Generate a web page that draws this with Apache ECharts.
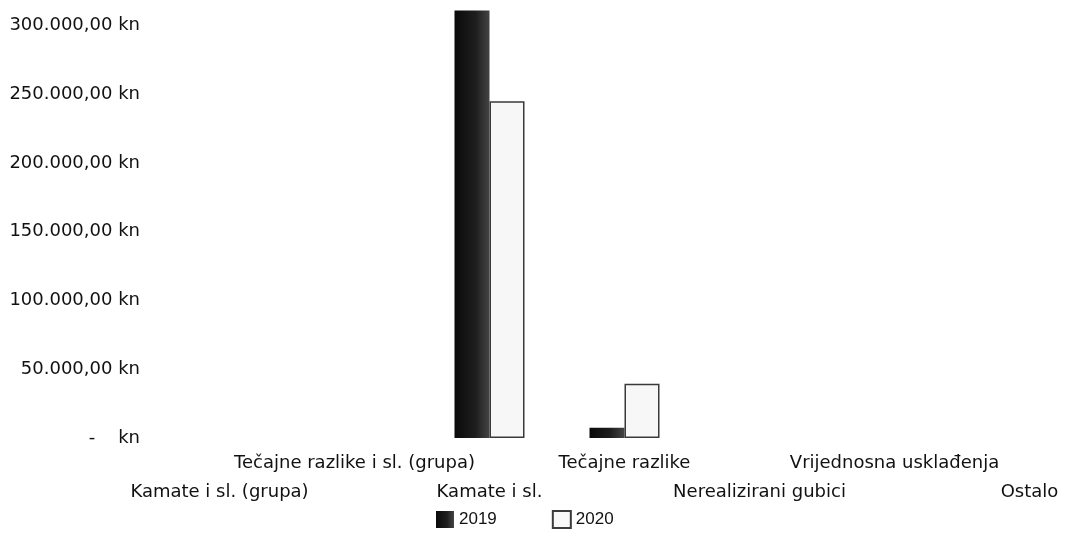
<!DOCTYPE html>
<html lang="hr">
<head>
    <meta charset="UTF-8">
    <title>Financijski rashodi</title>
    <script src="https://cdn.jsdelivr.net/npm/echarts@6/dist/echarts.min.js"></script>
    <style>
        html, body { margin: 0; padding: 0; background: #fff; }
    </style>
</head>
<body>
<div id="main" style="width: 1065px;height:551px;"></div>

<script type="text/javascript">
    // podaci
    var categories = ['Kamate i sl. (grupa)', 'Tečajne razlike i sl. (grupa)', 'Kamate i sl.', 'Tečajne razlike',
        'Nerealizirani gubici', 'Vrijednosna usklađenja', 'Ostalo'];
    var data2019 = [0, 0, 311000, 7500, 0, 0, 0];
    var data2020 = [0, 0, 245000, 39500, 0, 0, 0];
    var seriesNames = ['2019', '2020'];

    function kn(v) {
        if (v === 0) return '-    kn';
        if (v % 50000 !== 0) return '';
        return String(v).replace(/\B(?=(\d{3})+(?!\d))/g, '.') + ',00 kn';
    }

    // nule se ne crtaju (inace se vidi obrub)
    function bezNula(arr) {
        return arr.map(function (v) { return v === 0 ? null : v; });
    }

    var myChart = echarts.init(document.getElementById('main'));

    var option = {
        animation: false,
        textStyle: { fontFamily: 'DejaVu Sans' },
        legend: {
            data: seriesNames,
            icon: 'rect',
            left: 431,
            top: 505,
            itemWidth: 18,
            itemHeight: 17,
            itemGap: 55,
            textStyle: { fontSize: 17, color: '#111', fontFamily: 'Liberation Sans' }
        },
        grid: {
            left: 152,
            width: 945,
            top: 9,
            bottom: 113,
            containLabel: false,
            outerBoundsMode: 'none'
        },
        xAxis: {
            type: 'category',
            data: categories,
            axisLine: { show: false },
            axisTick: { show: false },
            axisLabel: {
                interval: 0,
                margin: 11,
                fontSize: 18,
                lineHeight: 29,
                color: '#111',
                formatter: function (val, idx) {
                    return idx % 2 === 0 ? '\n' + val : val;
                }
            }
        },
        yAxis: {
            type: 'value',
            min: 0,
            max: 312000,
            interval: 50000,
            splitLine: { show: false },
            axisLine: { show: false },
            axisTick: { show: false },
            axisLabel: {
                showMaxLabel: false,
                margin: 12,
                fontSize: 18,
                color: '#111',
                formatter: kn
            }
        },
        series: [
            {
                name: '2019',
                type: 'bar',
                data: bezNula(data2019),
                barWidth: 35,
                barGap: '0%',
                itemStyle: {
                    color: new echarts.graphic.LinearGradient(0, 0, 1, 0, [
                        { offset: 0, color: '#0a0a0a' },
                        { offset: 0.6, color: '#1e1e1e' },
                        { offset: 1, color: '#444' }
                    ])
                }
            },
            {
                name: '2020',
                type: 'bar',
                data: bezNula(data2020),
                barWidth: 35,
                itemStyle: {
                    color: '#f7f7f7',
                    borderColor: '#3a3a3a',
                    borderWidth: 1.5
                }
            }
        ]
    };

    myChart.setOption(option);
</script>
</body>
</html>
